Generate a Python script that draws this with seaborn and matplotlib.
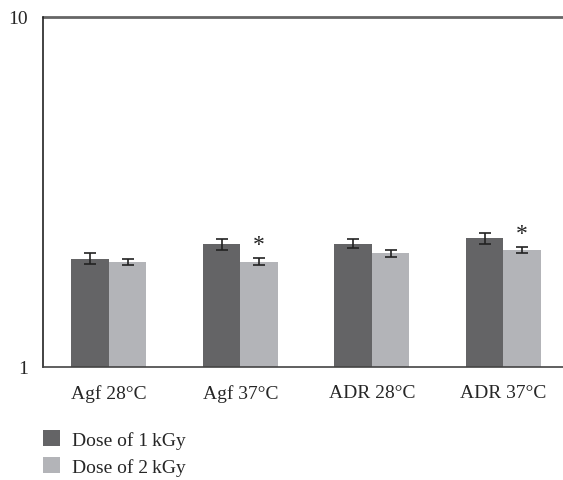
import numpy as np
import pandas as pd
import matplotlib
matplotlib.use("Agg")
import matplotlib.pyplot as plt
import seaborn as sns
from matplotlib.patches import Patch

categories = ["Agf 28°C", "Agf 37°C", "ADR 28°C", "ADR 37°C"]
series_names = ["Dose of 1\u2009kGy", "Dose of 2\u2009kGy"]
dose1 = [2.04, 2.24, 2.25, 2.33]
dose1_err = [0.07, 0.08, 0.065, 0.085]
dose2 = [2.00, 2.00, 2.11, 2.16]
dose2_err = [0.04, 0.045, 0.045, 0.045]
significant2 = [False, True, False, True]

colors = ["#646466", "#b3b4b8"]

sns.set_style("white")
plt.rcParams["font.family"] = ["Liberation Serif", "DejaVu Serif"]

df = pd.DataFrame({
    "cat": categories * 2,
    "series": [series_names[0]] * 4 + [series_names[1]] * 4,
    "val": dose1 + dose2,
})

fig = plt.figure(figsize=(5.63, 4.81), dpi=100)
ax = fig.add_axes([0.0764, 0.235, 0.93, 0.7276])

sns.barplot(data=df, x="cat", y="val", hue="series", order=categories,
            hue_order=series_names, palette=colors, errorbar=None,
            width=0.57, saturation=1, ax=ax, legend=False, linewidth=0)

ax.set_yscale("log")
ax.set_ylim(1, 10)
ax.set_xlim(-0.5, 3.48)

# error bars from bar patches
bars = [p for p in ax.patches if p.get_width() > 0]
bars_sorted = sorted(bars, key=lambda p: p.get_x())
vals = []
errs = []
sig = []
for i in range(4):
    vals += [dose1[i], dose2[i]]
    errs += [dose1_err[i], dose2_err[i]]
    sig += [False, significant2[i]]
for p, v, e, s in zip(bars_sorted, vals, errs, sig):
    xc = p.get_x() + p.get_width() / 2
    ax.errorbar(xc, v, yerr=e, color="#222222", capsize=4, elinewidth=1.2,
                capthick=1.2, fmt="none")
    if s:
        ax.text(xc, (v + e) * 1.02, "*", ha="center", va="bottom",
                fontsize=17, color="#222222")

# axes styling
ax.yaxis.set_major_locator(matplotlib.ticker.FixedLocator([1, 10]))
ax.yaxis.set_major_formatter(matplotlib.ticker.FixedFormatter(["1", "10"]))
ax.yaxis.set_minor_locator(matplotlib.ticker.NullLocator())
ax.grid(False)
ax.axhline(10, color="#666666", lw=2.0, clip_on=False, zorder=0)

ax.set_xticks([0, 1, 2, 3])
ax.set_xticklabels(categories, fontsize=14)
ax.set_xticks([-0.5, 0.5, 1.5, 2.5], minor=True)
ax.tick_params(axis="x", which="major", length=0, pad=12)
ax.tick_params(axis="x", which="minor", length=7, width=1.0, color="#333333",
               direction="out")
ax.tick_params(axis="y", which="major", length=7, width=1.0, color="#333333",
               direction="out", labelsize=14, pad=4)
ax.set_xlabel("")
ax.set_ylabel("")

for s in ["top", "right"]:
    ax.spines[s].set_visible(False)
ax.spines["left"].set_color("#222222")
ax.spines["left"].set_linewidth(1.2)
ax.spines["bottom"].set_color("#444444")
ax.spines["bottom"].set_linewidth(1.2)

handles = [Patch(facecolor=c, edgecolor="none") for c in colors]
fig.legend(handles, series_names, loc="upper left", bbox_to_anchor=(0.0764, 0.103),
           frameon=False, fontsize=14, handlelength=0.88, handleheight=0.88,
           handletextpad=0.62, labelspacing=0.4, borderaxespad=0, borderpad=0)

fig.savefig("out.png", dpi=100)
